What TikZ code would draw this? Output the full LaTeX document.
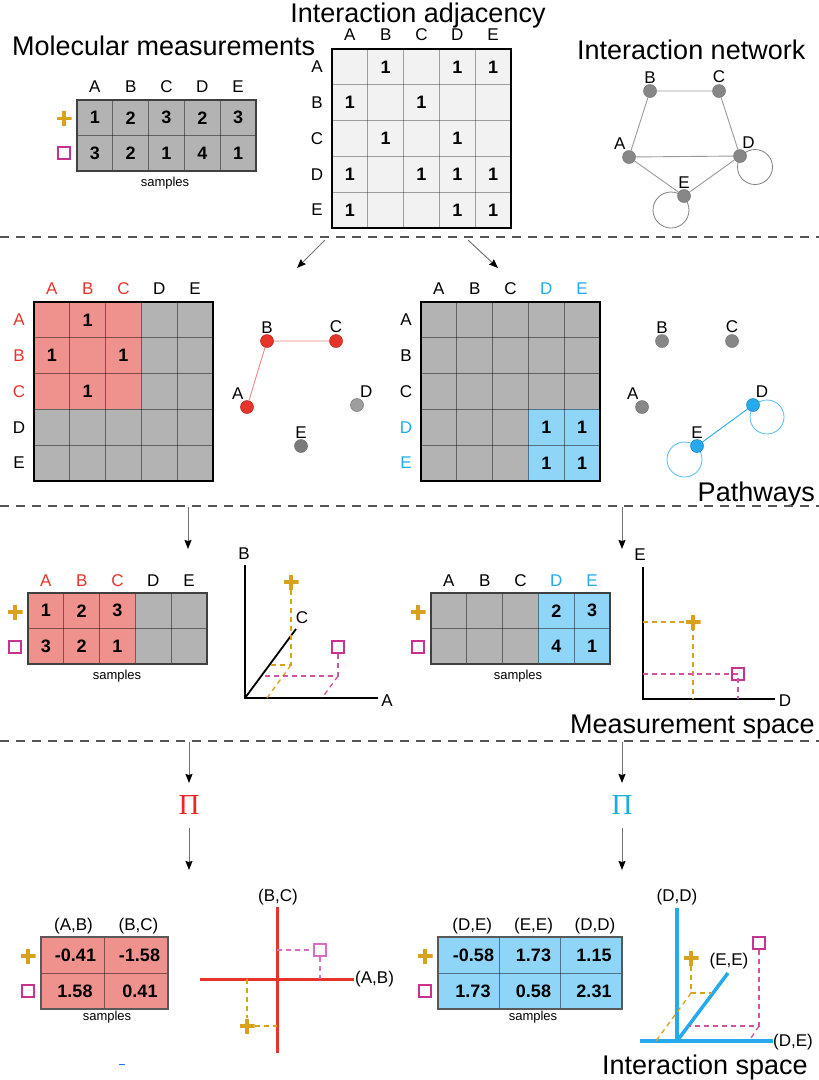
\documentclass[tikz,border=0pt]{standalone}
\usepackage{fontspec}
\setmainfont{Liberation Sans}
\newfontfamily\piserif{Liberation Serif}
\usetikzlibrary{arrows.meta, backgrounds}
\definecolor{cellgray}{HTML}{B3B3B3}
\definecolor{adjbg}{HTML}{F2F2F2}
\definecolor{cellred}{HTML}{EF918D}
\definecolor{cellblue}{HTML}{8ED5F8}
\definecolor{pathred}{HTML}{E8332B}
\definecolor{pathblue}{HTML}{25AAEE}
\definecolor{pired}{HTML}{F52222}
\definecolor{piblue}{HTML}{1AAEDD}
\definecolor{pluscol}{HTML}{D9A21E}
\definecolor{sqcol}{HTML}{C8338F}
\definecolor{sqlight}{HTML}{D86CC0}
\definecolor{nodegray}{HTML}{878787}
\definecolor{sepgray}{HTML}{555555}

\begin{document}
\begin{tikzpicture}[
    x=1pt, y=-1pt,
    title/.style={font=\fontsize{27}{30}\selectfont, inner sep=0pt},
    lbl/.style={font=\fontsize{17}{19}\selectfont, inner sep=1pt},
    val/.style={font=\fontsize{18}{20}\selectfont\bfseries, inner sep=0pt},
    smallnote/.style={font=\fontsize{13}{15}\selectfont, inner sep=0pt},
    gridline/.style={draw=black, opacity=0.45, line width=0.9pt},
    frame/.style={draw=black!75, line width=1.4pt},
    thickframe/.style={draw=black, line width=2pt},
    plusmk/.style={rectangle, minimum size=15pt, inner sep=0pt,
      path picture={\draw[pluscol, line width=3.2pt]
        (path picture bounding box.west) -- (path picture bounding box.east)
        (path picture bounding box.north) -- (path picture bounding box.south);}},
    sqmk/.style={rectangle, draw=sqcol, line width=2pt, minimum size=12pt, inner sep=0pt},
    gnode/.style={circle, fill=nodegray, draw=black!55, line width=0.5pt, minimum size=13pt, inner sep=0pt},
    rnode/.style={gnode, fill=pathred, draw=pathred!75!black},
    bnode/.style={gnode, fill=pathblue, draw=pathblue!75!black},
    gedge/.style={draw=black!40, line width=0.9pt},
    gloop/.style={draw=black!50, line width=0.8pt},
    sepline/.style={draw=sepgray, line width=1.2pt, dash pattern=on 9pt off 7pt},
    flowarrow/.style={draw=black!55, line width=1pt, -{Stealth[length=9pt, width=7pt, inset=1pt, color=black]}},
    plusdash/.style={draw=pluscol, line width=1.3pt, dash pattern=on 5pt off 4pt},
    sqdash/.style={draw=sqcol!85, line width=1.3pt, dash pattern=on 5pt off 4pt},
    axis/.style={draw=black, line width=1.8pt},
    redaxis/.style={draw=pathred, line width=3pt},
    blueaxis/.style={draw=pathblue, line width=3.5pt},
]
\useasboundingbox (0,0) rectangle (819,1080);

% =============================================
% TOP ROW – measurements, adjacency, network
% =============================================
\node[title, anchor=base west] (t-mol) at (12,55) {Molecular measurements};
\node[title, anchor=base] (t-adj) at (418,22) {Interaction adjacency};
\node[title, anchor=base west] (t-net) at (577,59) {Interaction network};

% Molecular measurements table
\begin{scope}[shift={(77,100)}]
  \fill[cellgray] (0,0) rectangle (179,71);
  \foreach \i in {1,...,4} \draw[gridline] (\i*35.8,0) -- (\i*35.8,71);
  \draw[gridline] (0,35.5) -- (179,35.5);
  \draw[frame] (0,0) rectangle (179,71);
  \foreach \l [count=\col] in {A,B,C,D,E}
    \node[lbl] (mol-h\col) at (\col*35.8-17.9,-13) {\l};
  \foreach \v [count=\col] in {1,2,3,2,3}
    \node[val] (mol-1-\col) at (\col*35.8-17.9,17.75) {\v};
  \foreach \v [count=\col] in {3,2,1,4,1}
    \node[val] (mol-2-\col) at (\col*35.8-17.9,53.25) {\v};
  \node[plusmk] (mol-plus) at (-13,18.5) {};
  \node[sqmk] (mol-sq) at (-13,53) {};
  \node[smallnote] (mol-s) at (88,83) {samples};
\end{scope}

% Adjacency matrix
\begin{scope}[shift={(332,49)}]
  \fill[adjbg] (0,0) rectangle (179,179);
  \foreach \i in {1,...,4} {
    \draw[gridline, opacity=0.35] (\i*35.8,0) -- (\i*35.8,179);
    \draw[gridline, opacity=0.35] (0,\i*35.8) -- (179,\i*35.8);
  }
  \draw[thickframe] (0,0) rectangle (179,179);
  \foreach \l [count=\col] in {A,B,C,D,E} {
    \node[lbl] (adj-h\col) at (\col*35.8-17.9,-14) {\l};
    \node[lbl] (adj-r\col) at (-15,\col*35.8-17.9) {\l};
  }
  \foreach \row/\col in {1/2,1/4,1/5,2/1,2/3,3/2,3/4,4/1,4/3,4/4,4/5,5/1,5/4,5/5}
    \node[val] (adj-\row-\col) at (\col*35.8-17.9,\row*35.8-17.9) {1};
\end{scope}

% Interaction network
\node[gnode, label={[lbl]110:A}] (net-A) at (629,157) {};
\node[gnode, label={[lbl]above:B}] (net-B) at (650,91) {};
\node[gnode, label={[lbl]above:C}] (net-C) at (719,91) {};
\node[gnode, label={[lbl]80:D}] (net-D) at (740,156) {};
\node[gnode, label={[lbl]above:E}] (net-E) at (684,196) {};
\draw[gedge] (net-A) -- (net-B) -- (net-C) -- (net-D) -- (net-A) -- (net-E) -- (net-D);
\begin{scope}[on background layer]
  \draw[gloop] ([shift={(15,11)}]net-D.center) circle (17.5);
  \draw[gloop] ([shift={(-13,14)}]net-E.center) circle (18);
\end{scope}

\draw[sepline] (0,237) -- (819,237);

% =============================================
% PATHWAYS
% =============================================
\coordinate (a1s) at (325,240);
\coordinate (a1e) at (297,268);
\coordinate (a2s) at (468,240);
\coordinate (a2e) at (498,268);
\draw[flowarrow] (a1s) -- (a1e);
\draw[flowarrow] (a2s) -- (a2e);

% Pathway 1 – A, B, C
\begin{scope}[shift={(34,302)}]
  \fill[cellgray] (0,0) rectangle (179,179);
  \fill[cellred] (0,0) rectangle (107.4,107.4);
  \foreach \i in {1,...,4} {
    \draw[gridline] (\i*35.8,0) -- (\i*35.8,179);
    \draw[gridline] (0,\i*35.8) -- (179,\i*35.8);
  }
  \draw[thickframe] (0,0) rectangle (179,179);
  \foreach \l/\cl [count=\col] in {A/pathred,B/pathred,C/pathred,D/black,E/black} {
    \node[lbl, text=\cl] (p1-h\col) at (\col*35.8-17.9,-13) {\l};
    \node[lbl, text=\cl] (p1-r\col) at (-15,\col*35.8-17.9) {\l};
  }
  \foreach \row/\col in {1/2,2/1,2/3,3/2}
    \node[val] (p1-\row-\col) at (\col*35.8-17.9,\row*35.8-17.9) {1};
\end{scope}

\node[rnode, label={[lbl]110:A}] (p1n-A) at (247,407) {};
\node[rnode, label={[lbl]above:B}] (p1n-B) at (267,341) {};
\node[rnode, label={[lbl]above:C}] (p1n-C) at (336,341) {};
\node[gnode, fill=black!38, label={[lbl]74:D}] (p1n-D) at (357,405) {};
\node[gnode, fill=black!52, label={[lbl]above:E}] (p1n-E) at (301,446) {};
\draw[gedge, draw=pathred!60] (p1n-A) -- (p1n-B) -- (p1n-C);

% Pathway 2 – D, E
\begin{scope}[shift={(421,302)}]
  \fill[cellgray] (0,0) rectangle (179,179);
  \fill[cellblue] (107.4,107.4) rectangle (179,179);
  \foreach \i in {1,...,4} {
    \draw[gridline] (\i*35.8,0) -- (\i*35.8,179);
    \draw[gridline] (0,\i*35.8) -- (179,\i*35.8);
  }
  \draw[thickframe] (0,0) rectangle (179,179);
  \foreach \l/\cl [count=\col] in {A/black,B/black,C/black,D/pathblue,E/pathblue} {
    \node[lbl, text=\cl] (p2-h\col) at (\col*35.8-17.9,-13) {\l};
    \node[lbl, text=\cl] (p2-r\col) at (-15,\col*35.8-17.9) {\l};
  }
  \foreach \row/\col in {4/4,4/5,5/4,5/5}
    \node[val] (p2-\row-\col) at (\col*35.8-17.9,\row*35.8-17.9) {1};
\end{scope}

\node[gnode, label={[lbl]110:A}] (p2n-A) at (642,407) {};
\node[gnode, label={[lbl]above:B}] (p2n-B) at (662,341) {};
\node[gnode, label={[lbl]above:C}] (p2n-C) at (732,341) {};
\node[bnode, label={[lbl]76:D}] (p2n-D) at (753,405) {};
\node[bnode, label={[lbl]above:E}] (p2n-E) at (697,446) {};
\draw[gedge, draw=pathblue] (p2n-E) -- (p2n-D);
\begin{scope}[on background layer]
  \draw[gloop, draw=pathblue!80] ([shift={(14,12)}]p2n-D.center) circle (17);
  \draw[gloop, draw=pathblue!80] ([shift={(-12.5,13.5)}]p2n-E.center) circle (17.5);
\end{scope}

\node[title, anchor=base east] (t-path) at (815,501) {Pathways};

\draw[sepline] (0,506) -- (819,506);

% =============================================
% MEASUREMENT SPACE
% =============================================
\coordinate (b1s) at (188,507);
\coordinate (b1e) at (188,549);
\coordinate (b2s) at (622,507);
\coordinate (b2e) at (622,549);
\draw[flowarrow] (b1s) -- (b1e);
\draw[flowarrow] (b2s) -- (b2e);

% Table 1 – A, B, C
\begin{scope}[shift={(28,593)}]
  \fill[cellgray] (0,0) rectangle (179,71);
  \fill[cellred] (0,0) rectangle (107.4,71);
  \foreach \i in {1,...,4} \draw[gridline] (\i*35.8,0) -- (\i*35.8,71);
  \draw[gridline] (0,35.5) -- (179,35.5);
  \draw[frame] (0,0) rectangle (179,71);
  \foreach \l/\cl [count=\col] in {A/pathred,B/pathred,C/pathred,D/black,E/black}
    \node[lbl, text=\cl] (m1-h\col) at (\col*35.8-17.9,-12) {\l};
  \foreach \v [count=\col] in {1,2,3}
    \node[val] (m1-1-\col) at (\col*35.8-17.9,17.75) {\v};
  \foreach \v [count=\col] in {3,2,1}
    \node[val] (m1-2-\col) at (\col*35.8-17.9,53.25) {\v};
  \node[plusmk] (m1-plus) at (-13,19) {};
  \node[sqmk] (m1-sq) at (-13,54) {};
  \node[smallnote] (m1-s) at (89,83) {samples};
\end{scope}

% Plot 1 – oblique A, B, C axes
\coordinate (ms1-o) at (245,698);
\coordinate (ms1-b) at (245,565);
\coordinate (ms1-a) at (378,698);
\coordinate (ms1-c) at (296,629);
\draw[axis] (ms1-b) -- (ms1-o) -- (ms1-a);
\draw[axis] (ms1-o) -- (ms1-c);
\node[lbl] (ms1-lb) at (244,554) {B};
\node[lbl] (ms1-la) at (387,701) {A};
\node[lbl] (ms1-lc) at (302,618) {C};
\node[plusmk] (ms1-plus) at (291,582) {};
\node[sqmk] (ms1-sq) at (338,647) {};
\draw[plusdash] (ms1-plus) -- (291,665) -- (270,665);
\draw[plusdash] (291,665) -- (267,698);
\draw[sqdash] (ms1-sq) -- (338,676) -- (262,676);
\draw[sqdash] (338,676) -- (322,698);

% Table 2 – D, E
\begin{scope}[shift={(431,593)}]
  \fill[cellgray] (0,0) rectangle (179,71);
  \fill[cellblue] (107.4,0) rectangle (179,71);
  \foreach \i in {1,...,4} \draw[gridline] (\i*35.8,0) -- (\i*35.8,71);
  \draw[gridline] (0,35.5) -- (179,35.5);
  \draw[frame] (0,0) rectangle (179,71);
  \foreach \l/\cl [count=\col] in {A/black,B/black,C/black,D/pathblue,E/pathblue}
    \node[lbl, text=\cl] (m2-h\col) at (\col*35.8-17.9,-12) {\l};
  \node[val] (m2-1-4) at (125.3,17.75) {2};
  \node[val] (m2-1-5) at (161.1,17.75) {3};
  \node[val] (m2-2-4) at (125.3,53.25) {4};
  \node[val] (m2-2-5) at (161.1,53.25) {1};
  \node[plusmk] (m2-plus) at (-13,19) {};
  \node[sqmk] (m2-sq) at (-13,54) {};
  \node[smallnote] (m2-s) at (87,83) {samples};
\end{scope}

% Plot 2 – D, E axes
\coordinate (ms2-o) at (643,699);
\coordinate (ms2-e) at (643,567);
\coordinate (ms2-d) at (775,699);
\draw[axis] (ms2-e) -- (ms2-o) -- (ms2-d);
\node[lbl] (ms2-le) at (640,555) {E};
\node[lbl] (ms2-ld) at (785,701) {D};
\node[plusmk] (ms2-plus) at (693,622) {};
\node[sqmk] (ms2-sq) at (738,674) {};
\draw[plusdash] (643,622) -- (ms2-plus.center) -- (693,699);
\draw[sqdash] (643,674) -- (ms2-sq.center) -- (738,699);

\node[title, anchor=base east] (t-meas) at (815,733) {Measurement space};

\draw[sepline] (0,741) -- (819,741);

% =============================================
% INTERACTION SPACE
% =============================================
\coordinate (c1s) at (189,742);
\coordinate (c1e) at (189,783);
\coordinate (c2s) at (622,742);
\coordinate (c2e) at (622,783);
\draw[flowarrow] (c1s) -- (c1e);
\draw[flowarrow] (c2s) -- (c2e);

\node[font=\piserif\fontsize{29}{30}\selectfont, text=pired] (pi-l) at (189,805) {Π};
\node[font=\piserif\fontsize{29}{30}\selectfont, text=piblue] (pi-r) at (622,805) {Π};

\coordinate (d1s) at (189,828);
\coordinate (d1e) at (189,870);
\coordinate (d2s) at (622,828);
\coordinate (d2e) at (622,870);
\draw[flowarrow] (d1s) -- (d1e);
\draw[flowarrow] (d2s) -- (d2e);

% Table 3 – (A,B), (B,C)
\begin{scope}[shift={(41,937)}]
  \fill[cellred] (0,0) rectangle (127,72);
  \draw[gridline] (63.5,0) -- (63.5,72);
  \draw[gridline] (0,36) -- (127,36);
  \draw[frame, draw=black!65] (0,0) rectangle (127,72);
  \node[lbl] (i1-h1) at (32.5,-11) {(A,B)};
  \node[lbl] (i1-h2) at (97.5,-11) {(B,C)};
  \node[val] (i1-1-1) at (34.5,18) {-0.41};
  \node[val] (i1-1-2) at (98.5,18) {-1.58};
  \node[val] (i1-2-1) at (34,54) {1.58};
  \node[val] (i1-2-2) at (99,54) {0.41};
  \node[plusmk] (i1-plus) at (-13,19) {};
  \node[sqmk] (i1-sq) at (-13,54) {};
  \node[smallnote] (i1-s) at (66,80) {samples};
\end{scope}

\draw[pathblue!70!blue, line width=1pt] (119,1064) -- (125,1064);

% Plot 3 – (A,B), (B,C) axes
\coordinate (is1-w) at (200,979);
\coordinate (is1-e) at (354,979);
\coordinate (is1-n) at (277,907);
\coordinate (is1-s) at (277,1053);
\draw[redaxis] (is1-w) -- (is1-e);
\draw[redaxis] (is1-n) -- (is1-s);
\node[lbl] (is1-lbc) at (278,897) {(B,C)};
\node[lbl, anchor=west] (is1-lab) at (354,979) {(A,B)};
\node[sqmk, draw=sqlight] (is1-sq) at (320,950) {};
\node[plusmk] (is1-plus) at (247,1026) {};
\draw[sqdash, draw=sqlight] (277,950) -- (is1-sq);
\draw[sqdash, draw=sqlight] (is1-sq) -- (320,979);
\draw[plusdash] (247,979) -- (is1-plus);
\draw[plusdash] (is1-plus) -- (277,1026);

% Table 4 – (D,E), (E,E), (D,D)
\begin{scope}[shift={(438,937)}]
  \fill[cellblue] (0,0) rectangle (184,72);
  \draw[gridline] (61.3,0) -- (61.3,72);
  \draw[gridline] (122.7,0) -- (122.7,72);
  \draw[gridline] (0,36) -- (184,36);
  \draw[frame, draw=black!65] (0,0) rectangle (184,72);
  \foreach \l [count=\col] in {{(D,E)},{(E,E)},{(D,D)}}
    \node[lbl] (i2-h\col) at (\col*61.3-27,-11) {\l};
  \node[val] (i2-1-1) at (35.5,18) {-0.58};
  \node[val] (i2-1-2) at (95.5,18) {1.73};
  \node[val] (i2-1-3) at (156,18) {1.15};
  \node[val] (i2-2-1) at (35,54) {1.73};
  \node[val] (i2-2-2) at (95.5,54) {0.58};
  \node[val] (i2-2-3) at (156,54) {2.31};
  \node[plusmk] (i2-plus) at (-13,19) {};
  \node[sqmk] (i2-sq) at (-13,54) {};
  \node[smallnote] (i2-s) at (95,80) {samples};
\end{scope}

% Plot 4 – oblique (D,E), (E,E), (D,D) axes
\coordinate (is2-o) at (677,1041);
\coordinate (is2-w) at (640,1041);
\coordinate (is2-e) at (773,1041);
\coordinate (is2-n) at (677,908);
\coordinate (is2-ee) at (728,973);
\draw[blueaxis] (is2-w) -- (is2-e);
\draw[blueaxis] (is2-o) -- (is2-n);
\draw[blueaxis] (is2-o) -- (is2-ee);
\node[lbl] (is2-ldd) at (677,897) {(D,D)};
\node[lbl] (is2-lee) at (729,961) {(E,E)};
\node[lbl, anchor=west] (is2-lde) at (772,1042) {(D,E)};
\node[plusmk] (is2-plus) at (691,958) {};
\node[sqmk] (is2-sq) at (759,943) {};
\draw[plusdash] (is2-plus) -- (691,993) -- (712,993);
\draw[plusdash] (691,993) -- (656,1041);
\draw[sqdash] (is2-sq) -- (759,1026) -- (689,1026);
\draw[sqdash] (759,1026) -- (749,1041);

\node[title, anchor=base east] (t-int) at (808,1074) {Interaction space};

\end{tikzpicture}
\end{document}
